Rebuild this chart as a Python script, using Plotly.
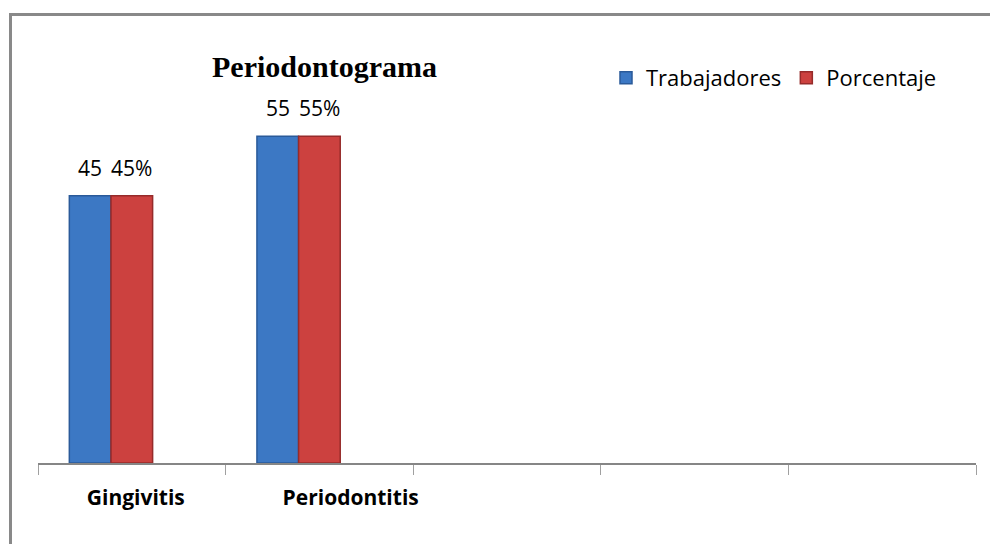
import plotly.graph_objects as go

# ---- data ----
categories = ["Gingivitis", "Periodontitis"]
empty_slots = ["\u200b", "\u200b\u200b", "\u200b\u200b\u200b"]
trabajadores = [45, 55]
porcentaje = [45, 55]
trabajadores_labels = ["45", "55"]
porcentaje_labels = ["45%", "55%"]
tick_labels = ["Gingivitis", "\u00a0" * 10 + "Periodontitis"]

W, H = 990, 544
L, R, T, B = 38, 14, 47, 81
plot_w = W - L - R
plot_h = H - T - B
ymax = plot_h / 5.94

BAR_W = 0.222
series = [
    dict(name="Trabajadores", y=trabajadores, labels=trabajadores_labels, offset=-0.333,
         color="#3C78C4", edge="#2A5A99"),
    dict(name="Porcentaje", y=porcentaje, labels=porcentaje_labels, offset=-0.111,
         color="#CC413F", edge="#962B2A"),
]

fig = go.Figure()
for s in series:
    fig.add_trace(go.Bar(
        name=s["name"], x=categories, y=s["y"],
        width=BAR_W, offset=s["offset"],
        marker=dict(color=s["color"], line=dict(color=s["edge"], width=1.5)),
        cliponaxis=False, hoverinfo="skip",
    ))
    # data labels placed above each bar through the axes
    for i, (val, lab) in enumerate(zip(s["y"], s["labels"])):
        fig.add_annotation(x=i + s["offset"] + BAR_W / 2, y=val, xref="x", yref="y",
                           text=lab, showarrow=False, yanchor="bottom", xanchor="center",
                           yshift=12,
                           font=dict(family="Open Sans", size=21, color="#000000"))

allcats = categories + empty_slots
fig.update_layout(
    width=W, height=H,
    margin=dict(l=L, r=R, t=T, b=B, autoexpand=False),
    paper_bgcolor="white", plot_bgcolor="white",
    barmode="group",
    showlegend=True,
    title=dict(text="<b>Periodontograma</b>", x=324.5 / W, xref="container", xanchor="center",
               y=1 - 66 / H, yref="container", yanchor="middle",
               font=dict(family="Liberation Serif", size=30, color="#000000")),
    legend=dict(orientation="h", x=(606 - L) / plot_w, xanchor="left",
                y=(H - B - 57) / plot_h, yanchor="top",
                font=dict(family="Open Sans", size=22, color="#000000"),
                bgcolor="rgba(0,0,0,0)", itemwidth=30, traceorder="normal"),
    xaxis=dict(type="category", categoryorder="array", categoryarray=allcats,
               range=[-0.5, 4.5], tickson="boundaries", ticks="outside", ticklen=10,
               tickcolor="#a0a0a0", tickwidth=1,
               tickmode="array", tickvals=allcats, ticktext=tick_labels + [""] * 3,
               tickangle=0,
               showline=True, linecolor="#868686", linewidth=2, showgrid=False,
               zeroline=False,
               tickfont=dict(family="Open Sans", size=21, color="#000000", weight="bold"),
               ticklabelstandoff=15, ticklabelshift=4),
    yaxis=dict(range=[0, ymax], visible=False),
)

# outer chart frame (extends past the image to the right and bottom)
fig.add_shape(type="rect", xref="paper", yref="paper",
              x0=(10.5 - L) / plot_w, x1=(1010 - L) / plot_w,
              y0=-(560 - (H - B)) / plot_h, y1=(H - B - 14.5) / plot_h,
              line=dict(color="#898989", width=3), fillcolor="rgba(0,0,0,0)", layer="below")

fig.write_html("out.html", config={"displayModeBar": False},
               post_script="document.body.style.margin='0';document.body.style.padding='0';")
